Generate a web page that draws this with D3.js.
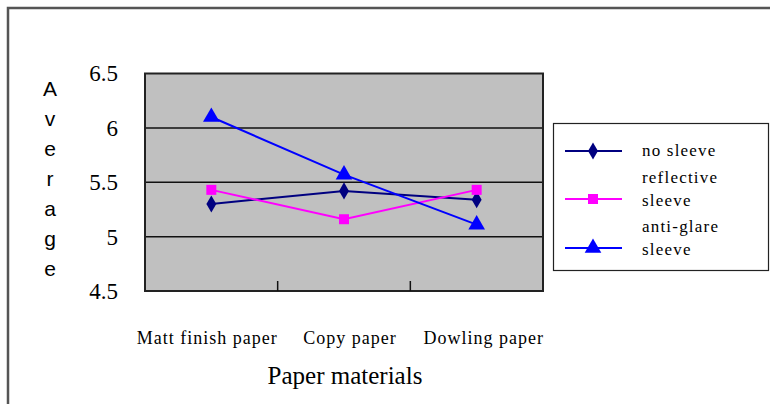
<!DOCTYPE html>
<html>
<head>
<meta charset="utf-8">
<script src="https://cdn.jsdelivr.net/npm/d3@7"></script>
<style>
  html, body { margin: 0; padding: 0; background: #fff; }
  svg { display: block; }
</style>
</head>
<body>
<svg id="chart" width="770" height="404"></svg>
<script>
// Paper materials along the x axis
const categories = ["Matt finish paper", "Copy paper", "Dowling paper"];
// Average ratings per sleeve condition
const noSleeve = [5.30, 5.42, 5.34];
const reflectiveSleeve = [5.43, 5.16, 5.43];
const antiGlareSleeve = [6.10, 5.57, 5.11];
const yTicks = [4.5, 5, 5.5, 6, 6.5];
const seriesNames = [["no sleeve"], ["reflective", "sleeve"], ["anti-glare", "sleeve"]];

const SERIF = "Liberation Serif";
const SANS = "Liberation Sans";

const series = [
  { name: seriesNames[0], values: noSleeve, color: "#000080", symbol: d3.symbolDiamond, size: 85 },
  { name: seriesNames[1], values: reflectiveSleeve, color: "#FF00FF", symbol: d3.symbolSquare, size: 100 },
  { name: seriesNames[2], values: antiGlareSleeve, color: "#0000FF", symbol: d3.symbolTriangle, size: 120 }
];

const svg = d3.select("#chart");

// outer frame
svg.append("path")
  .attr("d", "M8,404 V8 H770")
  .attr("fill", "none").attr("stroke", "#555").attr("stroke-width", 2.5);

const plot = { left: 145, top: 73.5, right: 543, bottom: 291 };

const x = d3.scaleBand().domain(categories).range([plot.left, plot.right]);
const y = d3.scaleLinear().domain([4.5, 6.5]).range([plot.bottom, plot.top]);

// plot background
svg.append("rect")
  .attr("x", plot.left).attr("y", plot.top)
  .attr("width", plot.right - plot.left).attr("height", plot.bottom - plot.top)
  .attr("fill", "#C0C0C0");

// horizontal gridlines
svg.append("g").selectAll("line")
  .data(yTicks.filter(t => t > 4.5 && t < 6.5))
  .join("line")
  .attr("x1", plot.left).attr("x2", plot.right)
  .attr("y1", d => y(d)).attr("y2", d => y(d))
  .attr("stroke", "#111").attr("stroke-width", 1.5);

// plot border
svg.append("rect")
  .attr("x", plot.left).attr("y", plot.top)
  .attr("width", plot.right - plot.left).attr("height", plot.bottom - plot.top)
  .attr("fill", "none").attr("stroke", "#222").attr("stroke-width", 2);

// category separator ticks along the bottom
const sepTicks = categories.slice(1).map(c => x(c));
svg.append("g").selectAll("line")
  .data(sepTicks)
  .join("line")
  .attr("x1", d => d).attr("x2", d => d)
  .attr("y1", plot.bottom).attr("y2", plot.bottom - 10)
  .attr("stroke", "#111").attr("stroke-width", 1.5);

// y axis labels
const yAxis = d3.axisLeft(y).tickValues(yTicks).tickSize(0).tickPadding(0)
  .tickFormat(d => d3.format("")(d));
const yg = svg.append("g").attr("transform", `translate(118,0)`).call(yAxis);
yg.select(".domain").remove();
yg.selectAll("text")
  .style("font-family", SERIF)
  .style("font-size", "23px").attr("fill", "#000");

// x axis labels
const xAxis = d3.axisBottom(x).tickSize(0).tickPadding(0);
const xg = svg.append("g").attr("transform", `translate(0,331)`).call(xAxis);
xg.select(".domain").remove();
xg.selectAll("text")
  .style("font-family", SERIF)
  .style("font-size", "18px").attr("fill", "#000")
  .attr("dx", (d, i) => [-4, 6, 7][i])
  .style("letter-spacing", "1px");

// x axis title
svg.append("text")
  .attr("x", 345).attr("y", 384)
  .attr("text-anchor", "middle")
  .style("font-family", SERIF)
  .style("font-size", "25px").attr("fill", "#000")
  .text("Paper materials");

// y axis title, one letter per line
const yTitle = "Average".split("");
svg.append("g").selectAll("text")
  .data(yTitle)
  .join("text")
  .attr("x", 50).attr("y", (d, i) => 96 + i * 30)
  .attr("text-anchor", "middle")
  .style("font-family", SANS)
  .style("font-size", "21px").attr("fill", "#000")
  .text(d => d);

// lines and markers
const cx = d => x(d) + x.bandwidth() / 2;
const line = d3.line().x((d, i) => cx(categories[i])).y(d => y(d));

series.forEach(s => {
  svg.append("path")
    .datum(s.values)
    .attr("d", line)
    .attr("fill", "none").attr("stroke", s.color).attr("stroke-width", 2);
  svg.append("g").selectAll("path")
    .data(s.values)
    .join("path")
    .attr("transform", (d, i) => `translate(${cx(categories[i])},${y(d)})`)
    .attr("d", d3.symbol().type(s.symbol).size(s.size))
    .attr("fill", s.color);
});

// legend
const legend = svg.append("g");
legend.append("rect")
  .attr("x", 553.5).attr("y", 123.5).attr("width", 215).attr("height", 147)
  .attr("fill", "#fff").attr("stroke", "#222").attr("stroke-width", 1.2);

// legend text area is clipped a little above the box bottom
svg.append("defs").append("clipPath").attr("id", "legend-text-clip")
  .append("rect").attr("x", 555).attr("y", 125).attr("width", 212).attr("height", 132);

const rowY = [151, 199, 248];
series.forEach((s, i) => {
  const g = legend.append("g");
  g.append("line")
    .attr("x1", 565).attr("x2", 622).attr("y1", rowY[i]).attr("y2", rowY[i])
    .attr("stroke", s.color).attr("stroke-width", 2);
  g.append("path")
    .attr("transform", `translate(593,${rowY[i]})`)
    .attr("d", d3.symbol().type(s.symbol).size(s.size))
    .attr("fill", s.color);
  const lines = s.name;
  const startY = lines.length === 1 ? rowY[i] + 5 : rowY[i] - 16;
  g.append("g").attr("clip-path", "url(#legend-text-clip)")
    .selectAll("text")
    .data(lines)
    .join("text")
    .attr("x", 642).attr("y", (d, k) => startY + k * 23)
    .style("font-family", SERIF)
    .style("font-size", "17px").attr("fill", "#000")
    .style("letter-spacing", "1.2px")
    .text(d => d);
});
</script>
</body>
</html>
